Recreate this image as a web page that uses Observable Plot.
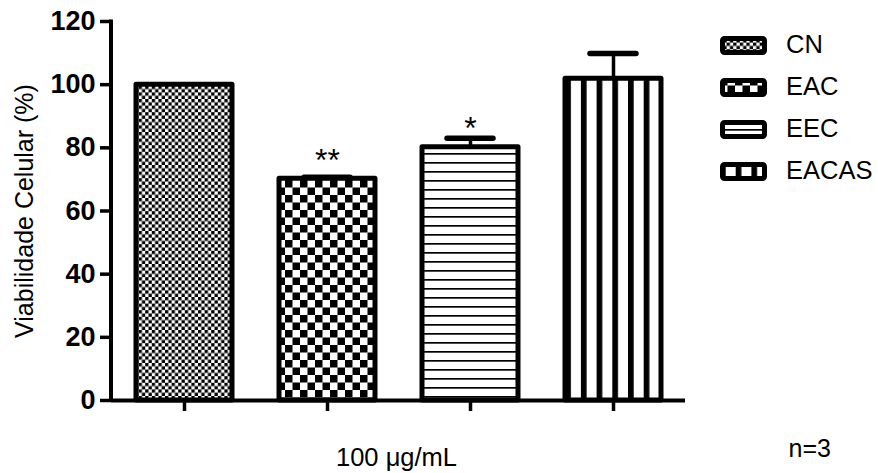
<!DOCTYPE html>
<html>
<head>
<meta charset="utf-8">
<script src="https://cdn.jsdelivr.net/npm/d3@7"></script>
<script src="https://cdn.jsdelivr.net/npm/@observablehq/plot@0.6"></script>
<style>
  html, body { margin: 0; padding: 0; background: #fff; }
  #wrap { position: relative; width: 878px; height: 473px; font-family: "Liberation Sans", Arial, sans-serif; }
  #legend { position: absolute; left: 720px; top: 24px; }
  .row { display: flex; align-items: center; height: 42px; }
  .row svg { display: block; }
  .row span { margin-left: 19px; font-size: 25.5px; color: #000; line-height: 1; }
</style>
</head>
<body>
<div id="wrap"></div>
<script>
// ---- data ----
const groups   = ["CN", "EAC", "EEC", "EACAS"];
const means    = [100, 70.2, 80.2, 101.9];
const errors   = [0, 0.5, 2.8, 8.0];
const stars    = ["", "**", "*", ""];
const patterns = ["pat-cn", "pat-eac", "pat-eec", "pat-eacas"];
const yTicks   = [0, 20, 40, 60, 80, 100, 120];
const xLabel   = "100 μg/mL";
const yLabel   = "Viabilidade Celular (%)";
const note     = "n=3";

const data = groups.map((g, i) => ({
  g, m: means[i], e: errors[i], s: stars[i], p: `url(#${patterns[i]})`
}));
const withErr = data.filter(d => d.e > 0);

// pattern definitions (added as a mark so they live in the chart svg)
function patternDefs() {
  const defs = d3.create("svg:defs");
  const mk = (id, w, h) => {
    const p = defs.append("pattern").attr("id", id).attr("patternUnits", "userSpaceOnUse")
      .attr("width", w).attr("height", h);
    p.append("rect").attr("width", w).attr("height", h).attr("fill", "#fff");
    return p;
  };
  let p = mk("pat-cn", 6.6, 6.6);
  p.append("rect").attr("x", 0).attr("y", 0).attr("width", 3.3).attr("height", 3.3).attr("fill", "#000");
  p.append("rect").attr("x", 3.3).attr("y", 3.3).attr("width", 3.3).attr("height", 3.3).attr("fill", "#000");
  p = mk("pat-eac", 15, 15);
  p.append("rect").attr("x", 0).attr("y", 0).attr("width", 7.5).attr("height", 7.5).attr("fill", "#000");
  p.append("rect").attr("x", 7.5).attr("y", 7.5).attr("width", 7.5).attr("height", 7.5).attr("fill", "#000");
  p = mk("pat-eec", 10, 9);
  p.append("rect").attr("x", 0).attr("y", 0).attr("width", 10).attr("height", 1.7).attr("fill", "#000");
  p = mk("pat-eacas", 15.7, 10);
  p.append("rect").attr("x", 0).attr("y", 0).attr("width", 5.7).attr("height", 10).attr("fill", "#000");
  return defs.node();
}

// y axis line drawn from the scales
function yAxisLine(index, scales, values, dims) {
  return d3.create("svg:line")
    .attr("x1", dims.marginLeft).attr("x2", dims.marginLeft)
    .attr("y1", scales.y(yTicks[0]) + 2).attr("y2", scales.y(yTicks[yTicks.length - 1]) - 1.5)
    .attr("stroke", "#000").attr("stroke-width", 4).node();
}

const chart = Plot.plot({
  width: 878,
  height: 473,
  marginLeft: 111,
  marginRight: 193,
  marginTop: 21,
  marginBottom: 73,
  style: { fontFamily: "'Liberation Sans', Arial, sans-serif", color: "#000", background: "#fff", overflow: "visible" },
  x: { domain: groups, paddingInner: 0.33, paddingOuter: 0.16 },
  y: { domain: [0, 120] },
  color: { type: "identity" },
  marks: [
    patternDefs,
    Plot.barY(data, { x: "g", y: "m", fill: "p", stroke: "#000", strokeWidth: 5, strokeLinejoin: "round" }),
    Plot.ruleX(withErr, { x: "g", y1: "m", y2: d => d.m + d.e, stroke: "#000", strokeWidth: 3.5 }),
    Plot.tickY(withErr, { x: "g", y: d => d.m + d.e, stroke: "#000", strokeWidth: 5.5, strokeLinecap: "round", insetLeft: 25, insetRight: 25 }),
    Plot.text(data.filter(d => d.s), { x: "g", y: "m", text: "s", dy: -18, fontSize: 32, lineAnchor: "middle", fill: "#000" }),
    Plot.ruleY([0], { stroke: "#000", strokeWidth: 4 }),
    yAxisLine,
    Plot.axisY({ ticks: yTicks, tickSize: 11, tickPadding: 5, tickFormat: d => String(d), fontSize: 27, fontWeight: "bold", strokeWidth: 3.5, label: null }),
    Plot.axisX({ tickSize: 11, tickFormat: () => "", strokeWidth: 3.5, label: null }),
    Plot.text([xLabel], { frameAnchor: "bottom", dx: -2, dy: 57, fontSize: 25.5, lineAnchor: "middle", fill: "#000" }),
    Plot.text([note], { frameAnchor: "bottom-right", dx: 103, dy: 48, fontSize: 25, textAnchor: "start", lineAnchor: "middle", fill: "#000" }),
    Plot.text([yLabel], { frameAnchor: "left", rotate: -90, dx: -87, fontSize: 25, textAnchor: "middle", lineAnchor: "middle", fill: "#000", letterSpacing: "0.3px" })
  ]
});

const wrap = document.getElementById("wrap");
wrap.appendChild(chart);

// legend (same patterns as the bars)
const legend = document.createElement("div");
legend.id = "legend";
groups.forEach((g, i) => {
  const row = document.createElement("div");
  row.className = "row";
  row.innerHTML = `<svg width="47" height="19"><rect x="2.5" y="2.5" width="42" height="14" rx="2" ry="2" fill="url(#${patterns[i]})" stroke="#000" stroke-width="5"/></svg><span>${g}</span>`;
  legend.appendChild(row);
});
wrap.appendChild(legend);
</script>
</body>
</html>
